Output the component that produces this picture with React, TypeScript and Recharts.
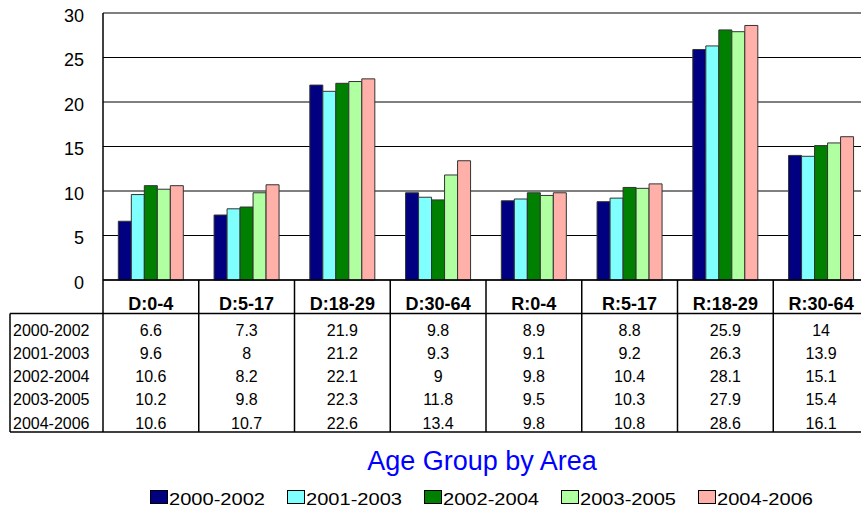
import { BarChart, Bar, XAxis, YAxis, CartesianGrid, Legend } from "recharts";

const categories = ["D:0-4", "D:5-17", "D:18-29", "D:30-64", "R:0-4", "R:5-17", "R:18-29", "R:30-64"];
const periods = ["2000-2002", "2001-2003", "2002-2004", "2003-2005", "2004-2006"];

const values2000_2002 = [6.6, 7.3, 21.9, 9.8, 8.9, 8.8, 25.9, 14];
const values2001_2003 = [9.6, 8, 21.2, 9.3, 9.1, 9.2, 26.3, 13.9];
const values2002_2004 = [10.6, 8.2, 22.1, 9, 9.8, 10.4, 28.1, 15.1];
const values2003_2005 = [10.2, 9.8, 22.3, 11.8, 9.5, 10.3, 27.9, 15.4];
const values2004_2006 = [10.6, 10.7, 22.6, 13.4, 9.8, 10.8, 28.6, 16.1];

const yTicks = [0, 5, 10, 15, 20, 25, 30];

const seriesValues = [values2000_2002, values2001_2003, values2002_2004, values2003_2005, values2004_2006];
const colors = ["#000080", "#80FFFF", "#008000", "#B0FFA0", "#FFB0A8"];

const data = categories.map((category, i) => {
  const row: Record<string, string | number> = { category };
  periods.forEach((p, k) => {
    row[p] = seriesValues[k][i];
  });
  return row;
});

const FONT = "'Liberation Sans', Arial, sans-serif";
const CHART_W = 869;
const CHART_H = 510;
const Y_AXIS_W = 103;
const X_AXIS_H = 230;
const BAND = (CHART_W - Y_AXIS_W) / categories.length;

function YTick(props: any) {
  const { x, y, payload } = props;
  return (
    <text x={x} y={y} dy={8.5} textAnchor="end" fontSize={18} fontFamily={FONT} fill="#000">
      {payload.value}
    </text>
  );
}

// draws the data table column under each category
function TableTick(props: any) {
  const { x, y, payload } = props;
  const i = props.index ?? payload.index;
  const left = x - BAND / 2;
  return (
    <g fontFamily={FONT} fill="#000">
      {i === 0 && (
        <g>
          <line x1={10} y1={y + 33.5} x2={CHART_W} y2={y + 33.5} stroke="#000" strokeWidth={1.5} />
          <line x1={10} y1={y + 152} x2={CHART_W} y2={y + 152} stroke="#000" strokeWidth={1.5} />
          <line x1={10} y1={y + 33.5} x2={10} y2={y + 152} stroke="#000" strokeWidth={1.5} />
          {periods.map((p, r) => (
            <text key={p} x={13} y={y + 50 + r * 23.25} dominantBaseline="central" fontSize={16}>
              {p}
            </text>
          ))}
        </g>
      )}
      <line x1={left} y1={y} x2={left} y2={y + 152} stroke="#000" strokeWidth={1.5} />
      <text x={x} y={y + 30} textAnchor="middle" fontSize={18} fontWeight="bold">
        {payload.value}
      </text>
      {seriesValues.map((vals, r) => (
        <text
          key={r}
          x={x}
          y={y + 50 + r * 23.25}
          textAnchor="middle"
          dominantBaseline="central"
          fontSize={16}
        >
          {vals[i]}
        </text>
      ))}
    </g>
  );
}

function LegendBlock(props: any) {
  const items = props.payload && props.payload.length ? props.payload : periods.map((p, k) => ({ value: p, color: colors[k] }));
  return (
    <svg width={861} height={70} style={{ display: "block" }} fontFamily={FONT}>
      <text x={482} y={30} textAnchor="middle" fontSize={27} fill="#0000FF">
        Age Group by Area
      </text>
      {items.map((item: any, k: number) => (
        <g key={item.value}>
          <rect x={150.5 + k * 137} y={50.5} width={17} height={13} fill={item.color} stroke="#000" />
          <text
            x={169 + k * 137}
            y={65}
            fontSize={17}
            fill="#000"
            textLength={96}
            lengthAdjust="spacingAndGlyphs"
          >
            {item.value}
          </text>
        </g>
      ))}
    </svg>
  );
}

export default function App() {
  return (
    <div
      style={{
        position: "absolute",
        left: 0,
        top: 0,
        width: 861,
        height: 510,
        overflow: "hidden",
        background: "#fff",
      }}
    >
      <BarChart
        width={CHART_W}
        height={CHART_H}
        data={data}
        margin={{ top: 13, right: 0, left: 0, bottom: 0 }}
        barCategoryGap="16%"
        barGap={0}
      >
        <CartesianGrid vertical={false} stroke="#000" strokeWidth={1} />
        <XAxis
          dataKey="category"
          height={X_AXIS_H}
          axisLine={{ stroke: "#000", strokeWidth: 1.5 }}
          tickLine={false}
          tickSize={0}
          tickMargin={0}
          interval={0}
          tick={<TableTick />}
        />
        <YAxis
          width={Y_AXIS_W}
          domain={[0, 30]}
          ticks={yTicks}
          axisLine={{ stroke: "#000", strokeWidth: 1.5 }}
          tickLine={false}
          tickSize={0}
          tickMargin={19}
          tick={<YTick />}
          interval={0}
        />
        <Legend
          layout="horizontal"
          verticalAlign="middle"
          align="center"
          wrapperStyle={{ top: 440, left: 0, width: 861, height: 70 }}
          content={<LegendBlock />}
        />
        {periods.map((p, k) => (
          <Bar key={p} dataKey={p} fill={colors[k]} stroke="#333" strokeWidth={1} isAnimationActive={false} />
        ))}
      </BarChart>
    </div>
  );
}
